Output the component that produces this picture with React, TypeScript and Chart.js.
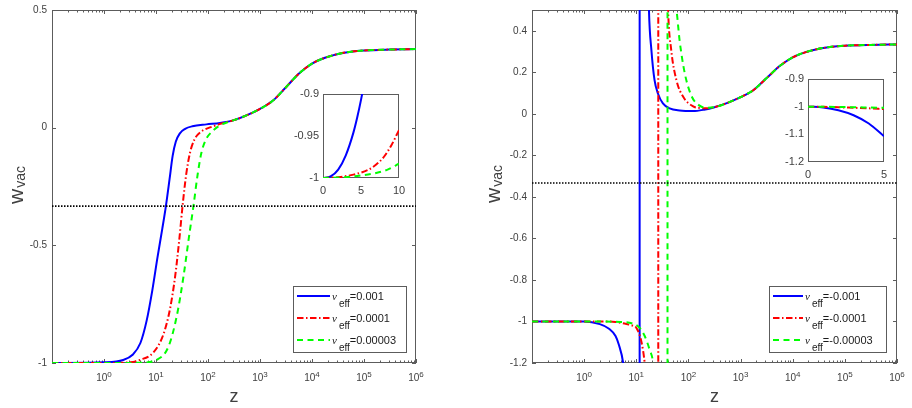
import React, { useEffect, useRef } from "react";
import { Chart, registerables } from "chart.js";
Chart.register(...registerables);

const FONT = '"Liberation Sans", Arial, Helvetica, sans-serif';
const TEXT = "#404040";
const FRAME = "#5c5c5c";
const BLUE = "#0000ff";
const RED = "#ff0000";
const GREEN = "#00ff00";
const DASH_RED = [6.5, 2.5, 1.5, 2.5];
const DASH_GREEN = [6, 4.5];

// ---------- shared high-z tail (all curves coincide) ----------
const zTail = [316, 562, 1000, 1778, 3162, 5623, 10000, 17783, 31623, 56234, 100000, 316228, 1000000];
const wTail = [0.032, 0.053, 0.08, 0.115, 0.172, 0.23, 0.272, 0.297, 0.313, 0.323, 0.328, 0.332, 0.334];

// ---------- left panel: nu_eff > 0 ----------
const zPosBlue = [0.1, 1, 2.34, 3.55, 5.01, 6.61, 8.51, 10.7, 13.2, 15.5, 18.2, 20.9, 24.0, 28.8, 36.3, 50.1, 93.3, 170];
const wPosBlue = [-1, -0.997, -0.987, -0.965, -0.915, -0.82, -0.69, -0.55, -0.43, -0.333, -0.22, -0.12, -0.06, -0.024, -0.005, 0.006, 0.014, 0.02];
const zPosRed = [0.1, 1, 3.16, 4.9, 8.91, 13.8, 18.6, 23.4, 28.2, 32.4, 38.0, 44.7, 55.0, 70.8, 126, 200];
const wPosRed = [-1, -1, -0.997, -0.987, -0.955, -0.88, -0.77, -0.63, -0.47, -0.333, -0.2, -0.11, -0.05, -0.02, 0.006, 0.02];
const zPosGreen = [0.1, 1, 5.01, 10.2, 17.4, 25.1, 33.9, 42.7, 52.5, 63.1, 74.1, 89.1, 126, 170, 251];
const wPosGreen = [-1, -1, -0.999, -0.987, -0.93, -0.8, -0.63, -0.47, -0.333, -0.2, -0.11, -0.055, -0.012, 0.01, 0.025];

// ---------- right panel: nu_eff < 0 ----------
const zNegBlue = [0.1, 1, 2, 3, 4, 4.6, 5.6, 7, 9, 10.5, 11.55, 11.65, 13.5, 15.5, 17.5, 19.5, 22.4, 26, 32.4, 43.7, 67.6, 123, 200];
const wNegBlue = [-1, -1, -1.013, -1.035, -1.07, -1.11, -1.2, -1.45, -2.5, -6, -50, 50, 3, 1.2, 0.5, 0.307, 0.162, 0.098, 0.05, 0.026, 0.016, 0.013, 0.02];
const zNegRed = [0.1, 1, 3.16, 4.12, 6.46, 8.51, 10, 12.6, 14.5, 17, 21, 26.3, 26.5, 33, 36.5, 40.7, 46.8, 58.9, 79.4, 123, 166, 224];
const wNegRed = [-1, -1, -1, -1.003, -1.012, -1.02, -1.03, -1.1, -1.2, -1.4, -2.2, -50, 50, 2, 1.0, 0.5, 0.307, 0.162, 0.082, 0.036, 0.028, 0.027];
const zNegGreen = [0.1, 1, 5, 8.51, 11.5, 14.5, 18.2, 20.9, 25, 32, 39.6, 39.8, 48, 58.9, 67.6, 85.1, 115, 158, 224];
const wNegGreen = [-1, -1, -1.002, -1.01, -1.03, -1.07, -1.14, -1.2, -1.5, -3, -50, 50, 2, 0.5, 0.355, 0.195, 0.085, 0.042, 0.029];

// ---------- insets ----------
const zInsPosBlue = [0, 1, 2, 3, 4, 4.5, 5, 5.5];
const wInsPosBlue = [-1, -0.9982, -0.99, -0.973, -0.946, -0.928, -0.907, -0.883];
const zInsPosRed = [0, 2, 4, 6, 7, 8, 9, 10];
const wInsPosRed = [-1, -0.999, -0.996, -0.99, -0.984, -0.975, -0.961, -0.943];
const zInsPosGreen = [0, 3, 5, 7, 8.5, 10];
const wInsPosGreen = [-1, -0.999, -0.997, -0.994, -0.99, -0.983];

const zInsNegBlue = [0, 1, 2, 3, 4, 5];
const wInsNegBlue = [-1, -1.003, -1.013, -1.031, -1.061, -1.107];
const zInsNegRed = [0, 1, 2, 3, 4, 5];
const wInsNegRed = [-1, -1.0005, -1.002, -1.004, -1.006, -1.009];
const zInsNegGreen = [0, 2, 3, 4, 5];
const wInsNegGreen = [-1, -1.001, -1.002, -1.003, -1.004];

// ---------- axes / labels ----------
const wReference = -1 / 3;
const xDecades = [-1, 0, 1, 2, 3, 4, 5, 6];
const xLabelExps = [0, 1, 2, 3, 4, 5, 6];
const yTicksLeft = [-1, -0.5, 0, 0.5];
const yLabelsLeft = ["-1", "-0.5", "0", "0.5"];
const yTicksRight = [-1.2, -1, -0.8, -0.6, -0.4, -0.2, 0, 0.2, 0.4];
const yLabelsRight = ["-1.2", "-1", "-0.8", "-0.6", "-0.4", "-0.2", "0", "0.2", "0.4"];
const legendLeft = ["=0.001", "=0.0001", "=0.00003"];
const legendRight = ["=-0.001", "=-0.0001", "=-0.00003"];

const insLeftX = [0, 5, 10];
const insLeftXLabels = ["0", "5", "10"];
const insLeftY = [-1, -0.95, -0.9];
const insLeftYLabels = ["-1", "-0.95", "-0.9"];
const insRightX = [0, 5];
const insRightXLabels = ["0", "5"];
const insRightY = [-1.2, -1.1, -1, -0.9];
const insRightYLabels = ["-1.2", "-1.1", "-1", "-0.9"];

function pts(zs: number[], ws: number[]) {
  return zs.map((z, i) => ({ x: z, y: ws[i] }));
}

const STYLES = [
  { color: BLUE, dash: [] as number[], order: 3 },
  { color: RED, dash: DASH_RED, order: 2 },
  { color: GREEN, dash: DASH_GREEN, order: 1 },
];

function curveSets(series: { x: number; y: number }[][]) {
  return series.map((d, i) => ({
    data: d,
    borderColor: STYLES[i].color,
    borderWidth: 2,
    borderDash: STYLES[i].dash,
    order: STYLES[i].order,
    pointRadius: 0,
    fill: false,
    cubicInterpolationMode: "monotone",
  }));
}

type MainOpts = {
  yTicks: number[];
  yLabels: string[];
  yMin: number;
  yMax: number;
  padding: { left: number; right: number; top: number; bottom: number };
  series: { x: number; y: number }[][];
  legend: string[];
  legendBox: { x: number; y: number; w: number; h: number; sample: number };
  yTitleX: number;
  yTitleY: number;
};

function drawLegend(ctx: CanvasRenderingContext2D, o: MainOpts) {
  const b = o.legendBox;
  ctx.save();
  ctx.fillStyle = "#ffffff";
  ctx.fillRect(b.x, b.y, b.w, b.h);
  ctx.strokeStyle = FRAME;
  ctx.lineWidth = 1;
  ctx.setLineDash([]);
  ctx.strokeRect(b.x + 0.5, b.y + 0.5, b.w, b.h);
  o.legend.forEach((lab, i) => {
    const ry = b.y + 10 + i * 22;
    ctx.save();
    ctx.strokeStyle = STYLES[i].color;
    ctx.lineWidth = 2;
    ctx.setLineDash(STYLES[i].dash);
    ctx.beginPath();
    ctx.moveTo(b.x + 4, ry);
    ctx.lineTo(b.x + 4 + b.sample, ry);
    ctx.stroke();
    ctx.restore();
    let tx = b.x + 6 + b.sample;
    ctx.fillStyle = "#1a1a1a";
    ctx.textBaseline = "alphabetic";
    ctx.textAlign = "left";
    ctx.font = `italic 11px "Liberation Serif", "DejaVu Serif", serif`;
    ctx.fillText("\u03bd", tx, ry + 4);
    tx += ctx.measureText("\u03bd").width + 2;
    ctx.font = `10px ${FONT}`;
    ctx.fillText("eff", tx, ry + 11);
    tx += ctx.measureText("eff").width;
    ctx.font = `11px ${FONT}`;
    ctx.fillText(lab, tx, ry + 4);
  });
  ctx.restore();
}

function mainPlugin(o: MainOpts) {
  return {
    id: "mainAxes",
    beforeDatasetsDraw(chart: any) {
      const { ctx, chartArea: a, scales } = chart;
      const xs = scales.x;
      const ys = scales.y;
      ctx.save();
      ctx.strokeStyle = FRAME;
      ctx.lineWidth = 1;
      ctx.setLineDash([]);
      ctx.strokeRect(a.left + 0.5, a.top + 0.5, a.right - a.left - 1, a.bottom - a.top - 1);
      ctx.beginPath();
      for (const v of o.yTicks) {
        const y = Math.round(ys.getPixelForValue(v)) + 0.5;
        ctx.moveTo(a.left, y);
        ctx.lineTo(a.left + 4, y);
        ctx.moveTo(a.right, y);
        ctx.lineTo(a.right - 4, y);
      }
      for (const d of xDecades) {
        for (let k = 1; k <= 9; k++) {
          const v = k * Math.pow(10, d);
          if (v > 1.0001e6) break;
          const x = Math.round(xs.getPixelForValue(v)) + 0.5;
          const len = k === 1 ? 4 : 2.5;
          ctx.moveTo(x, a.bottom);
          ctx.lineTo(x, a.bottom - len);
          ctx.moveTo(x, a.top);
          ctx.lineTo(x, a.top + len);
        }
      }
      ctx.stroke();
      ctx.restore();
    },
    afterDraw(chart: any) {
      const { ctx, chartArea: a, scales } = chart;
      const xs = scales.x;
      const ys = scales.y;
      ctx.save();
      ctx.fillStyle = TEXT;
      ctx.font = `10px ${FONT}`;
      ctx.textAlign = "right";
      ctx.textBaseline = "middle";
      o.yTicks.forEach((v, i) => {
        ctx.fillText(o.yLabels[i], a.left - 5, ys.getPixelForValue(v));
      });
      ctx.textAlign = "left";
      ctx.textBaseline = "alphabetic";
      for (const e of xLabelExps) {
        const x = xs.getPixelForValue(Math.pow(10, e));
        ctx.font = `10px ${FONT}`;
        const wb = ctx.measureText("10").width;
        ctx.font = `8px ${FONT}`;
        const we = ctx.measureText(String(e)).width;
        const x0 = x - (wb + we) / 2;
        ctx.font = `10px ${FONT}`;
        ctx.fillText("10", x0, a.bottom + 18);
        ctx.font = `8px ${FONT}`;
        ctx.fillText(String(e), x0 + wb, a.bottom + 13.5);
      }
      ctx.font = `18px ${FONT}`;
      ctx.textAlign = "center";
      ctx.fillText("z", (a.left + a.right) / 2, 402);
      ctx.save();
      ctx.translate(o.yTitleX, o.yTitleY);
      ctx.rotate(-Math.PI / 2);
      ctx.textAlign = "left";
      ctx.font = `21px ${FONT}`;
      ctx.fillText("w", 0, 0);
      const ww = ctx.measureText("w").width;
      ctx.font = `14px ${FONT}`;
      ctx.fillText("vac", ww + 1, 2);
      ctx.restore();
      ctx.restore();
      drawLegend(ctx, o);
    },
  };
}

function mainConfig(o: MainOpts): any {
  const sets: any[] = curveSets(o.series);
  sets.push({
    data: [
      { x: 0.1, y: wReference },
      { x: 1e6, y: wReference },
    ],
    borderColor: "#000000",
    borderWidth: 1.6,
    borderDash: [1.5, 1.5],
    order: 0,
    pointRadius: 0,
    fill: false,
    tension: 0,
  });
  return {
    type: "line",
    data: { datasets: sets },
    options: {
      animation: false,
      responsive: false,
      maintainAspectRatio: false,
      devicePixelRatio: 1,
      events: [],
      layout: { padding: o.padding },
      scales: {
        x: { type: "logarithmic", min: 0.1, max: 1e6, display: false },
        y: { type: "linear", min: o.yMin, max: o.yMax, display: false },
      },
      plugins: { legend: { display: false }, tooltip: { enabled: false } },
    },
    plugins: [mainPlugin(o)],
  };
}

type InsetOpts = {
  xMax: number;
  yMin: number;
  yMax: number;
  xTicks: number[];
  xLabels: string[];
  yTicks: number[];
  yLabels: string[];
  padding: { left: number; right: number; top: number; bottom: number };
  series: { x: number; y: number }[][];
};

function insetConfig(o: InsetOpts): any {
  return {
    type: "line",
    data: { datasets: curveSets(o.series) },
    options: {
      animation: false,
      responsive: false,
      maintainAspectRatio: false,
      devicePixelRatio: 1,
      events: [],
      layout: { padding: o.padding },
      scales: {
        x: { type: "linear", min: 0, max: o.xMax, display: false },
        y: { type: "linear", min: o.yMin, max: o.yMax, display: false },
      },
      plugins: { legend: { display: false }, tooltip: { enabled: false } },
    },
    plugins: [
      {
        id: "insetAxes",
        beforeDatasetsDraw(chart: any) {
          const { ctx, chartArea: a } = chart;
          ctx.save();
          ctx.fillStyle = "#ffffff";
          ctx.fillRect(a.left, a.top, a.right - a.left, a.bottom - a.top);
          ctx.strokeStyle = FRAME;
          ctx.lineWidth = 1;
          ctx.setLineDash([]);
          ctx.strokeRect(a.left + 0.5, a.top + 0.5, a.right - a.left - 1, a.bottom - a.top - 1);
          ctx.restore();
        },
        afterDraw(chart: any) {
          const { ctx, chartArea: a, scales } = chart;
          ctx.save();
          ctx.fillStyle = TEXT;
          ctx.font = `11px ${FONT}`;
          ctx.textAlign = "right";
          ctx.textBaseline = "middle";
          o.yTicks.forEach((v, i) => ctx.fillText(o.yLabels[i], a.left - 4, scales.y.getPixelForValue(v)));
          ctx.textAlign = "center";
          ctx.textBaseline = "top";
          o.xTicks.forEach((v, i) => ctx.fillText(o.xLabels[i], scales.x.getPixelForValue(v), a.bottom + 7));
          ctx.restore();
        },
      },
    ],
  };
}

function ChartBox(props: { left: number; top: number; width: number; height: number; make: () => any }) {
  const ref = useRef<HTMLCanvasElement>(null);
  useEffect(() => {
    const c = new Chart(ref.current as HTMLCanvasElement, props.make());
    return () => c.destroy();
  }, []);
  return (
    <canvas
      ref={ref}
      width={props.width}
      height={props.height}
      style={{ position: "absolute", left: props.left, top: props.top, width: props.width, height: props.height }}
    />
  );
}

export default function App() {
  const leftMain: MainOpts = {
    yTicks: yTicksLeft,
    yLabels: yLabelsLeft,
    yMin: -1,
    yMax: 0.5,
    padding: { left: 52, right: 40, top: 10, bottom: 45 },
    series: [
      pts(zPosBlue.concat(zTail), wPosBlue.concat(wTail)),
      pts(zPosRed.concat(zTail), wPosRed.concat(wTail)),
      pts(zPosGreen.concat(zTail), wPosGreen.concat(wTail)),
    ],
    legend: legendLeft,
    legendBox: { x: 293, y: 286, w: 113, h: 66, sample: 33 },
    yTitleX: 23,
    yTitleY: 204,
  };
  const rightMain: MainOpts = {
    yTicks: yTicksRight,
    yLabels: yLabelsRight,
    yMin: -1.2,
    yMax: 0.5,
    padding: { left: 76, right: 15, top: 10, bottom: 45 },
    series: [
      pts(zNegBlue.concat(zTail), wNegBlue.concat(wTail)),
      pts(zNegRed.concat(zTail), wNegRed.concat(wTail)),
      pts(zNegGreen.concat(zTail), wNegGreen.concat(wTail)),
    ],
    legend: legendRight,
    legendBox: { x: 313, y: 286, w: 117, h: 66, sample: 30 },
    yTitleX: 44,
    yTitleY: 203,
  };
  const leftInset: InsetOpts = {
    xMax: 10,
    yMin: -1,
    yMax: -0.9,
    xTicks: insLeftX,
    xLabels: insLeftXLabels,
    yTicks: insLeftY,
    yLabels: insLeftYLabels,
    padding: { left: 43, right: 11, top: 14, bottom: 27 },
    series: [pts(zInsPosBlue, wInsPosBlue), pts(zInsPosRed, wInsPosRed), pts(zInsPosGreen, wInsPosGreen)],
  };
  const rightInset: InsetOpts = {
    xMax: 5,
    yMin: -1.2,
    yMax: -0.9,
    xTicks: insRightX,
    xLabels: insRightXLabels,
    yTicks: insRightY,
    yLabels: insRightYLabels,
    padding: { left: 43, right: 16, top: 14, bottom: 23 },
    series: [pts(zInsNegBlue, wInsNegBlue), pts(zInsNegRed, wInsNegRed), pts(zInsNegGreen, wInsNegGreen)],
  };
  return (
    <div style={{ position: "fixed", left: 0, top: 0, width: 912, height: 408, background: "#ffffff" }}>
      <ChartBox left={0} top={0} width={456} height={408} make={() => mainConfig(leftMain)} />
      <ChartBox left={456} top={0} width={456} height={408} make={() => mainConfig(rightMain)} />
      <ChartBox left={280} top={80} width={130} height={125} make={() => insetConfig(leftInset)} />
      <ChartBox left={765} top={65} width={135} height={120} make={() => insetConfig(rightInset)} />
    </div>
  );
}
